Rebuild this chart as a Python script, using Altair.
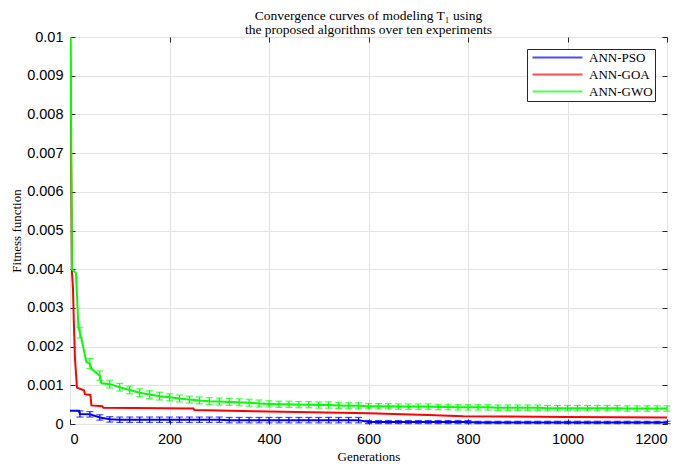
import altair as alt
import pandas as pd

SERIES = ["ANN-PSO", "ANN-GOA", "ANN-GWO"]
COLORS = ["#0000ff", "#ff0000", "#00ff00"]

# generations where error bars are drawn
bar_gen = list(range(20, 1201, 20))

# ANN-GWO: mean at the error-bar generations and half-widths
gwo_bar_mean = [0.00236, 0.00156, 0.00125, 0.00103, 0.00095, 0.00088, 0.00081, 0.00076, 0.00072, 0.00069,
                0.00066, 0.00063, 0.00061, 0.00059, 0.00058, 0.00057, 0.00056, 0.00055, 0.00053, 0.00052,
                0.00051, 0.00051, 0.00050, 0.00050, 0.00049, 0.00049, 0.00048, 0.00047, 0.00047, 0.00046,
                0.00046, 0.00046, 0.00045, 0.00045, 0.00045, 0.00045, 0.00044, 0.00044, 0.00043, 0.00043,
                0.00043, 0.00043, 0.00042, 0.00042, 0.00042, 0.00042, 0.00042, 0.00041, 0.00041, 0.00041,
                0.00041, 0.00041, 0.00041, 0.00041, 0.00041, 0.00040, 0.00040, 0.00040, 0.00040, 0.00040]
gwo_bar_half = [0.00014, 0.00013, 0.00012, 0.00010, 0.00010, 0.00010, 0.00010, 0.00010, 0.00010, 0.00009,
                0.00009, 0.00009, 0.00009, 0.00009, 0.00009, 0.00009, 0.00009, 0.00009, 0.00009, 0.00008,
                0.00008, 0.00008, 0.00008, 0.00008, 0.00008, 0.00008, 0.00008, 0.00008, 0.00008, 0.00007,
                0.00007, 0.00007, 0.00007, 0.00007, 0.00007, 0.00007, 0.00007, 0.00007, 0.00007, 0.00007,
                0.00007, 0.00007, 0.00007, 0.00007, 0.00007, 0.00007, 0.00007, 0.00007, 0.00007, 0.00007,
                0.00007, 0.00007, 0.00007, 0.00007, 0.00007, 0.00007, 0.00007, 0.00007, 0.00007, 0.00007]
# extra breakpoints of the GWO curve between error bars
gwo_extra_gen = [0, 4, 12, 17, 23, 33, 43, 55, 63]
gwo_extra_val = [0.0125, 0.0040, 0.0039, 0.0025, 0.0022, 0.0016, 0.00143, 0.0013, 0.00105]

# ANN-PSO
pso_bar_mean = [0.00026, 0.00025, 0.00017, 0.00012, 0.00011, 0.00011, 0.00011, 0.00011, 0.00011, 0.00011,
                0.00011, 0.00011, 0.00011, 0.00011, 0.00011, 0.00010, 0.00010, 0.00010, 0.00010, 0.00010,
                0.00010, 0.00010, 0.00010, 0.00010, 0.00010, 0.00010, 0.00010, 0.00010, 0.00010, 0.00005,
                0.00005, 0.00005, 0.00005, 0.00005, 0.00005, 0.00005, 0.00005, 0.00005, 0.00005, 0.00005,
                0.00004, 0.00004, 0.00004, 0.00004, 0.00004, 0.00004, 0.00004, 0.00004, 0.00004, 0.00004,
                0.00004, 0.00004, 0.00004, 0.00004, 0.00004, 0.00004, 0.00004, 0.00004, 0.00004, 0.00004]
pso_bar_half = [0.00008, 0.00007, 0.00007, 0.00007, 0.00007, 0.00007, 0.00007, 0.00007, 0.00007, 0.00007,
                0.00007, 0.00007, 0.00007, 0.00007, 0.00007, 0.00007, 0.00007, 0.00007, 0.00007, 0.00007,
                0.00007, 0.00007, 0.00007, 0.00007, 0.00007, 0.00007, 0.00007, 0.00007, 0.00007, 0.00004,
                0.00004, 0.00004, 0.00004, 0.00004, 0.00004, 0.00004, 0.00004, 0.00004, 0.00004, 0.00004,
                0.00003, 0.00003, 0.00003, 0.00003, 0.00003, 0.00003, 0.00003, 0.00003, 0.00003, 0.00003,
                0.00003, 0.00003, 0.00003, 0.00003, 0.00003, 0.00003, 0.00003, 0.00003, 0.00003, 0.00003]
pso_extra_gen = [0, 18]
pso_extra_val = [0.00034, 0.00034]

# ANN-GOA (no visible error bars)
goa_gen = [0, 4, 6, 8, 10, 14, 28, 30, 41, 43, 65, 67, 248, 250, 370, 600, 720, 790, 1000, 1200]
goa_val = [0.0105, 0.0039, 0.0035, 0.0025, 0.0017, 0.00094, 0.00087, 0.00077, 0.00075, 0.00048,
           0.00046, 0.00042, 0.0004, 0.00036, 0.00033, 0.00028, 0.00023, 0.0002, 0.00018, 0.00017]

X_TICKS = [0, 200, 400, 600, 800, 1000, 1200]
Y_TICKS = [0, 0.001, 0.002, 0.003, 0.004, 0.005, 0.006, 0.007, 0.008, 0.009, 0.01]


def line_frame(name, gens, vals):
    df = pd.DataFrame({"gen": gens, "value": vals})
    df = df.sort_values("gen").reset_index(drop=True)
    df["series"] = name
    return df


pso_line = line_frame("ANN-PSO", pso_extra_gen + bar_gen, pso_extra_val + pso_bar_mean)
goa_line = line_frame("ANN-GOA", goa_gen, goa_val)
gwo_line = line_frame("ANN-GWO", gwo_extra_gen + bar_gen, gwo_extra_val + gwo_bar_mean)

pso_bars = pd.DataFrame({"gen": bar_gen,
                         "lo": [m - h for m, h in zip(pso_bar_mean, pso_bar_half)],
                         "hi": [m + h for m, h in zip(pso_bar_mean, pso_bar_half)],
                         "series": "ANN-PSO"})
gwo_bars = pd.DataFrame({"gen": bar_gen,
                         "lo": [m - h for m, h in zip(gwo_bar_mean, gwo_bar_half)],
                         "hi": [m + h for m, h in zip(gwo_bar_mean, gwo_bar_half)],
                         "series": "ANN-GWO"})

SERIF = "Liberation Serif"
SANS = "Liberation Sans"
DARK = "#262626"

xscale = alt.Scale(domain=[0, 1200], nice=False)
yscale = alt.Scale(domain=[0, 0.01], nice=False)

color = alt.Color(
    "series:N",
    scale=alt.Scale(domain=SERIES, range=COLORS),
    legend=alt.Legend(
        title=None, orient="top-right", offset=12,
        symbolType="M-5,0H5", symbolSize=100, symbolStrokeWidth=2,
        symbolOffset=22, labelOffset=25,
        labelFont=SERIF, labelFontSize=13, labelColor="black",
        strokeColor=DARK, fillColor="white", padding=2, rowPadding=3,
    ),
)

# axis sets
ax_x_main = alt.Axis(values=X_TICKS, format="d", grid=True, gridColor="#e3e3e3", ticks=False, domain=False,
                     labelFont=SANS, labelFontSize=14.5, labelColor="black", labelPadding=8,
                     title="Generations", titleFont=SERIF, titleFontSize=13, titleFontWeight="normal",
                     titleColor="black", titlePadding=5)
ax_y_main = alt.Axis(values=Y_TICKS, format=".3~f", grid=True, gridColor="#e3e3e3", ticks=False, domain=False,
                     labelFont=SANS, labelFontSize=14.5, labelColor="black", labelPadding=7,
                     title="Fitness function", titleFont=SERIF, titleFontSize=13, titleFontWeight="normal",
                     titleColor="black", titlePadding=3)
ax_x_tick = alt.Axis(values=X_TICKS, orient="bottom", grid=False, labels=False, title=None, domain=False,
                     ticks=True, tickSize=5, offset=-5, tickColor=DARK)
ax_y_tick = alt.Axis(values=Y_TICKS, orient="left", grid=False, labels=False, title=None, domain=False,
                     ticks=True, tickSize=5, offset=-5, tickColor=DARK)
ax_x_top = alt.Axis(values=X_TICKS, orient="top", grid=False, labels=False, title=None, domain=False,
                    ticks=True, tickSize=5, offset=-5, tickColor=DARK)
ax_y_right = alt.Axis(values=Y_TICKS, orient="right", grid=False, labels=False, title=None, domain=False,
                      ticks=True, tickSize=5, offset=-5, tickColor=DARK)


def line_layer(df, xaxis, yaxis):
    return alt.Chart(df).mark_line(clip=True, strokeWidth=2).encode(
        x=alt.X("gen:Q", scale=xscale, axis=xaxis),
        y=alt.Y("value:Q", scale=yscale, axis=yaxis),
        color=color,
    )


def bar_layer(df, xaxis, yaxis):
    return alt.Chart(df).mark_errorbar(ticks=True, size=7, thickness=1.2).encode(
        x=alt.X("gen:Q", scale=xscale, axis=xaxis),
        y=alt.Y("lo:Q", scale=yscale, axis=yaxis),
        y2="hi:Q",
        color=color,
    )


chart = alt.layer(
    line_layer(pso_line, ax_x_main, ax_y_main),
    bar_layer(pso_bars, ax_x_tick, ax_y_tick),
    line_layer(goa_line, ax_x_top, ax_y_right),
    bar_layer(gwo_bars, None, None),
    line_layer(gwo_line, None, None),
).resolve_axis(x="independent", y="independent").properties(
    width=597, height=387,
    autosize=alt.AutoSizeParams(type="none"),
    padding={"left": 62, "top": 29, "right": 10, "bottom": 40},
    title=alt.TitleParams(
        text=["Convergence curves of modeling T\u2081 using",
              "the proposed algorithms over ten experiments"],
        font=SERIF, fontSize=13.5, fontWeight="normal", color="black",
        anchor="middle", offset=-7, lineHeight=14,
    ),
).configure_view(stroke=DARK, strokeWidth=1).configure(background="white")

chart.save("out.html", embed_options={"renderer": "svg", "actions": False})
